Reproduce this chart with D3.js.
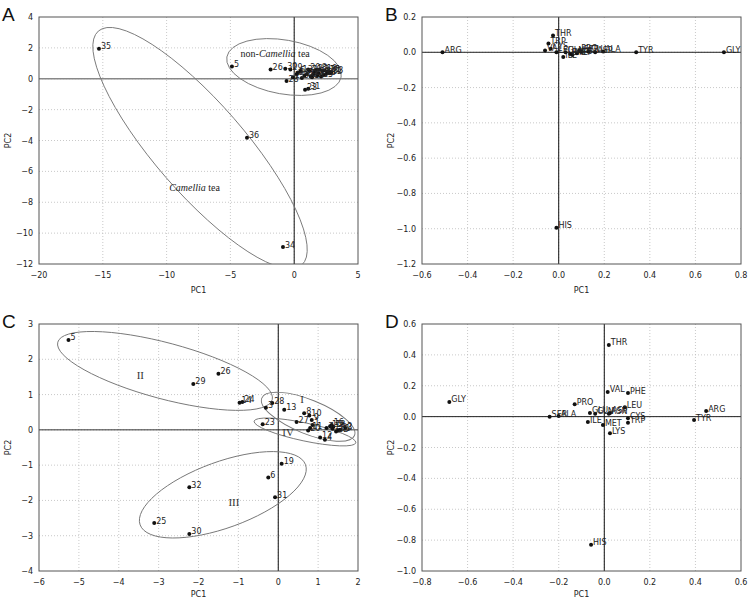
<!DOCTYPE html>
<html><head><meta charset="utf-8">
<script src="https://cdn.jsdelivr.net/npm/d3@7"></script>
<style>body{margin:0;background:#fff}svg{display:block}</style>
</head><body>
<svg id="c" width="749" height="599"></svg>
<script>
// ---------- DATA ----------
// Panel A: sample scores (all teas)
const labelsA = ["1","2","3","4","5","6","7","8","9","10","11","12","13","14","15","16","17","18","19","20","21","22","23","24","25","26","27","28","29","30","31","32","33","34","35","36"];
const pc1A = [1.5,2.5,2.2,1.8,-4.88,0.3,1.2,2.0,1.6,2.4,1.0,2.8,0.5,1.4,2.1,2.6,1.9,2.3,0.8,1.1,2.7,1.7,0.85,0.2,-0.1,-1.85,1.3,-0.6,-0.3,-0.7,1.1,0.6,2.9,-0.88,-15.3,-3.7];
const pc2A = [0.3,0.3,0.5,0.2,0.8,0.4,0.5,0.6,0.45,0.55,0.3,0.35,0.5,0.1,0.15,0.45,0.35,0.25,0.2,0.6,0.5,0.55,-0.72,0.3,0.1,0.6,0.15,-0.15,0.6,0.65,-0.65,0.05,0.4,-10.9,1.95,-3.82];

// Panel B: loadings (all teas)
const aaB = ["ARG","THR","TRP","VAL","CYS","LEU","ILE","PHE","MET","LYS","SER","GLU","ASP","PRO","ALA","TYR","GLY","HIS","GLN"];
const pc1B = [-0.51,-0.025,-0.045,-0.06,-0.035,-0.01,0.02,0.05,0.06,0.08,0.10,0.13,0.16,0.09,0.195,0.34,0.725,-0.01,0.03];
const pc2B = [0.0,0.095,0.05,0.01,0.02,0.0,-0.027,-0.01,-0.015,-0.005,0.005,0.005,0.0,0.01,0.005,0.0,0.0,-0.995,0.0];

// Panel C: sample scores (non-Camellia teas)
const labelsC = ["5","29","26","24","14","3","28","13","23","27","8","10","9","1","11","20","7","16","18","17","33","2","22","12","4","19","6","31","32","25","30","15","21"];
const pc1C = [-5.26,-2.13,-1.50,-0.90,-0.97,-0.31,-0.15,0.15,-0.39,0.46,0.65,0.78,0.84,0.86,0.80,0.75,1.21,1.34,1.38,1.36,1.55,1.68,1.45,1.05,1.17,0.085,-0.25,-0.08,-2.23,-3.11,-2.23,1.30,1.50];
const pc2C = [2.55,1.30,1.59,0.79,0.77,0.63,0.76,0.57,0.16,0.22,0.47,0.41,0.28,0.14,0.05,-0.02,0.05,0.14,0.09,0.03,0.0,0.05,-0.05,-0.22,-0.28,-0.96,-1.35,-1.91,-1.63,-2.64,-2.95,0.10,-0.02];

// Panel D: loadings (non-Camellia teas)
const aaD = ["THR","VAL","PHE","PRO","GLY","LEU","GLU","ASP","SER","ALA","ILE","MET","GLN","ASN","CYS","TRP","LYS","TYR","ARG","HIS"];
const pc1D = [0.02,0.015,0.104,-0.13,-0.68,0.09,-0.063,0.025,-0.24,-0.20,-0.072,-0.006,-0.04,0.02,0.104,0.104,0.025,0.394,0.447,-0.058];
const pc2D = [0.464,0.16,0.153,0.08,0.095,0.06,0.024,0.024,0.0,0.004,-0.035,-0.055,0.018,0.018,-0.01,-0.04,-0.107,-0.022,0.036,-0.83];

// ---------- LAYOUT ----------
const svg = d3.select("#c");
const panels = [
  {id:"A", l:39, r:358, t:17, b:264, xd:[-20,5], xs:5, yd:[-12,4], ys:2, fmt:d3.format("d"),  fmty:d3.format("d"),
   lab:labelsA, px:pc1A, py:pc2A, hzero:{c:"#888",w:1.6}, tdy:29},
  {id:"B", l:422, r:741, t:17, b:264, xd:[-0.6,0.8], xs:0.2, yd:[-1.2,0.2], ys:0.2, fmt:d3.format(".1f"), fmty:d3.format(".1f"),
   lab:aaB, px:pc1B, py:pc2B, hzero:{c:"#222",w:1}, tdy:29},
  {id:"C", l:39, r:358, t:324, b:571, xd:[-6,2], xs:1, yd:[-4,3], ys:1, fmt:d3.format("d"), fmty:d3.format("d"),
   lab:labelsC, px:pc1C, py:pc2C, hzero:{c:"#333",w:1}, tdy:26},
  {id:"D", l:422, r:741, t:324, b:571, xd:[-0.8,0.6], xs:0.2, yd:[-1.0,0.6], ys:0.2, fmt:d3.format(".1f"), fmty:d3.format(".1f"),
   lab:aaD, px:pc1D, py:pc2D, hzero:{c:"#222",w:1}, tdy:26}
];

const ellipses = {
  A:[{cx:-0.80, cy:0.76, a:58, b:27, ang:10},
     {cx:-7.38, cy:-4.49, a:155, b:45, ang:49}],
  C:[{cx:-2.84, cy:1.67, a:111, b:28, ang:15},
     {cx:-1.39, cy:-1.84, a:88, b:33, ang:-20},
     {cx:0.75, cy:0.37, a:50, b:17, ang:22},
     {cx:0.67, cy:-0.06, a:52, b:9, ang:12}]
};

function range(a,b,s){const n=Math.round((b-a)/s);return d3.range(n+1).map(i=>+(a+i*s).toFixed(6));}

panels.forEach(p=>{
  const x = d3.scaleLinear().domain(p.xd).range([p.l,p.r]);
  const y = d3.scaleLinear().domain(p.yd).range([p.b,p.t]);
  const g = svg.append("g");
  const xt = range(p.xd[0],p.xd[1],p.xs), yt = range(p.yd[0],p.yd[1],p.ys);
  const minus = s=>s.replace("-","\u2212");
  const clipId = "clip"+p.id;
  g.append("clipPath").attr("id",clipId).append("rect").attr("x",p.l).attr("y",p.t).attr("width",p.r-p.l).attr("height",p.b-p.t);
  // grid
  g.selectAll(".gx").data(xt.slice(1,-1)).enter().append("line")
    .attr("x1",d=>x(d)).attr("x2",d=>x(d)).attr("y1",p.t).attr("y2",p.b)
    .attr("stroke","#bbb").attr("stroke-width",0.8).attr("stroke-dasharray","1,2");
  g.selectAll(".gy").data(yt.slice(1,-1)).enter().append("line")
    .attr("y1",d=>y(d)).attr("y2",d=>y(d)).attr("x1",p.l).attr("x2",p.r)
    .attr("stroke","#bbb").attr("stroke-width",0.8).attr("stroke-dasharray","1,2");
  // zero lines
  g.append("line").attr("x1",p.l).attr("x2",p.r).attr("y1",y(0)).attr("y2",y(0))
    .attr("stroke",p.hzero.c).attr("stroke-width",p.hzero.w);
  g.append("line").attr("x1",x(0)).attr("x2",x(0)).attr("y1",p.t).attr("y2",p.b)
    .attr("stroke","#111").attr("stroke-width",1);
  // frame
  g.append("rect").attr("x",p.l).attr("y",p.t).attr("width",p.r-p.l).attr("height",p.b-p.t)
    .attr("fill","none").attr("stroke","#555").attr("stroke-width",1);
  // tick labels
  g.selectAll(".tx").data(xt).enter().append("text")
    .attr("x",d=>x(d)).attr("y",p.b+14).attr("text-anchor","middle")
    .attr("font-family","DejaVu Sans").attr("font-size",8).attr("fill","#222")
    .text(d=>minus(p.fmt(d)));
  g.selectAll(".ty").data(yt).enter().append("text")
    .attr("x",p.l-6).attr("y",d=>y(d)+3).attr("text-anchor","end")
    .attr("font-family","DejaVu Sans").attr("font-size",8).attr("fill","#222")
    .text(d=>minus(p.fmty(d)));
  // axis titles
  g.append("text").attr("x",(p.l+p.r)/2).attr("y",p.b+p.tdy).attr("text-anchor","middle")
    .attr("font-family","DejaVu Sans").attr("font-size",8).attr("fill","#222").text("PC1");
  g.append("text").attr("transform",`translate(${p.l-28},${(p.t+p.b)/2}) rotate(-90)`)
    .attr("text-anchor","middle").attr("font-family","DejaVu Sans").attr("font-size",8).attr("fill","#222").text("PC2");
  // panel letter
  g.append("text").attr("x",p.l-37).attr("y",p.t+4).attr("font-family","Liberation Sans, Arial").attr("font-size",19)
    .attr("fill","#111").text(p.id);
  // ellipses
  const eg = g.append("g").attr("clip-path",`url(#${clipId})`);
  (ellipses[p.id]||[]).forEach(e=>{
    eg.append("ellipse").attr("cx",0).attr("cy",0).attr("rx",e.a).attr("ry",e.b)
      .attr("transform",`translate(${x(e.cx)},${y(e.cy)}) rotate(${e.ang})`)
      .attr("fill","none").attr("stroke","#777").attr("stroke-width",0.9);
  });
  // points
  const idx = d3.range(p.lab.length);
  g.selectAll(".pt").data(idx).enter().append("circle")
    .attr("cx",i=>x(p.px[i])).attr("cy",i=>y(p.py[i])).attr("r",2).attr("fill","#111");
  g.selectAll(".pl").data(idx).enter().append("text")
    .attr("x",i=>x(p.px[i])+2).attr("y",i=>y(p.py[i])+0.5)
    .attr("font-family","DejaVu Sans").attr("font-size",8).attr("fill","#222")
    .text(i=>p.lab[i]);
  p.x=x; p.y=y; p.g=g;
});

// annotations
const A = panels[0], C = panels[2];
const tA = A.g.append("text").attr("x",A.x(-4.2)).attr("y",A.y(1.4)).attr("font-family","Liberation Serif, Times New Roman, serif").attr("font-size",10).attr("fill","#222");
tA.append("tspan").text("non-");
tA.append("tspan").attr("font-style","italic").text("Camellia");
tA.append("tspan").text(" tea");
const tA2 = A.g.append("text").attr("x",A.x(-9.8)).attr("y",A.y(-7.3)).attr("font-family","Liberation Serif, Times New Roman, serif").attr("font-size",10).attr("fill","#222");
tA2.append("tspan").attr("font-style","italic").text("Camellia");
tA2.append("tspan").text(" tea");
const roman = [["II",-3.55,1.45],["III",-1.25,-2.15],["I",0.55,0.76],["IV",0.1,-0.18]];
roman.forEach(r=>{
  C.g.append("text").attr("x",C.x(r[1])).attr("y",C.y(r[2])).attr("font-family","Liberation Serif, Times New Roman, serif")
   .attr("font-size",11).attr("fill","#333").text(r[0]);
});
</script>
</body></html>
